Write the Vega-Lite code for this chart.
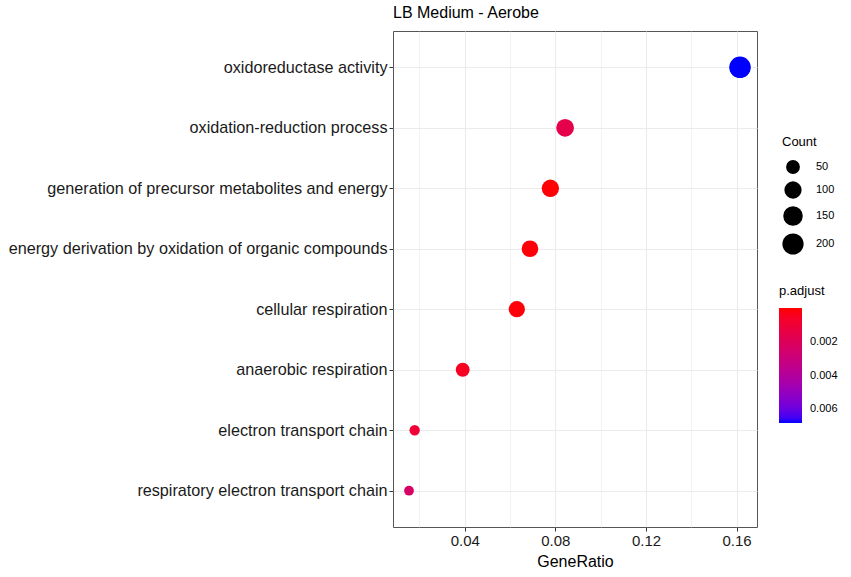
{
  "$schema": "https://vega.github.io/schema/vega-lite/v6.json",
  "autosize": {"type": "none"},
  "width": 364,
  "height": 496,
  "padding": {"left": 393, "top": 31, "right": 94, "bottom": 50},
  "background": "white",
  "title": {"text": "LB Medium - Aerobe", "anchor": "start", "frame": "group", "font": "Liberation Sans", "fontSize": 16, "fontWeight": "normal", "color": "#000000", "offset": 10},
  "config": {
    "view": {"stroke": "#555555", "strokeWidth": 1},
    "font": "Liberation Sans"
  },
  "data": {
    "values": [
      {"Description": "oxidoreductase activity", "GeneRatio": 0.1615, "Count": 210, "p.adjust": 0.0068},
      {"Description": "oxidation-reduction process", "GeneRatio": 0.0843, "Count": 110, "p.adjust": 0.0016},
      {"Description": "generation of precursor metabolites and energy", "GeneRatio": 0.0778, "Count": 101, "p.adjust": 0.00005},
      {"Description": "energy derivation by oxidation of organic compounds", "GeneRatio": 0.0688, "Count": 89, "p.adjust": 0.00008},
      {"Description": "cellular respiration", "GeneRatio": 0.0630, "Count": 82, "p.adjust": 0.0001},
      {"Description": "anaerobic respiration", "GeneRatio": 0.0391, "Count": 51, "p.adjust": 0.0005},
      {"Description": "electron transport chain", "GeneRatio": 0.0179, "Count": 23, "p.adjust": 0.001},
      {"Description": "respiratory electron transport chain", "GeneRatio": 0.0154, "Count": 20, "p.adjust": 0.0024}
    ]
  },
  "mark": {"type": "circle", "opacity": 1, "strokeWidth": 0},
  "encoding": {
    "x": {
      "field": "GeneRatio", "type": "quantitative",
      "scale": {"domain": [0.00834, 0.169], "nice": false, "zero": false},
      "axis": {
        "title": "GeneRatio", "titleFontSize": 16, "titleFontWeight": "normal", "titleColor": "#000000", "titlePadding": 5,
        "values": [0.02, 0.04, 0.06, 0.08, 0.10, 0.12, 0.14, 0.16],
        "labelExpr": "round(datum.value*100) % 4 == 0 ? format(datum.value, '.2f') : ''",
        "labelFontSize": 15, "labelColor": "#1a1a1a", "labelPadding": 2,
        "domain": false, "tickSize": 4,
        "tickColor": {"condition": {"test": "round(datum.value*100) % 4 == 0", "value": "#333333"}, "value": "rgba(0,0,0,0)"},
        "grid": true,
        "gridColor": "#EBEBEB",
        "gridWidth": {"condition": {"test": "round(datum.value*100) % 4 == 0", "value": 1.1}, "value": 0.6}
      }
    },
    "y": {
      "field": "Description", "type": "nominal", "sort": null,
      "scale": {"type": "point", "padding": 0.6},
      "axis": {
        "title": null, "labelFontSize": 16.2, "labelColor": "#1a1a1a", "labelPadding": 2, "labelLimit": 500,
        "domain": false, "tickSize": 4, "tickColor": "#333333",
        "grid": true, "gridColor": "#EBEBEB", "gridWidth": 1.1
      }
    },
    "size": {
      "field": "Count", "type": "quantitative",
      "scale": {"type": "sqrt", "domain": [20, 210], "range": [95, 464]},
      "legend": {
        "title": "Count", "orient": "none", "legendX": 389, "legendY": 105,
        "values": [50, 100, 150, 200],
        "titleFontSize": 13, "titleFontWeight": "normal", "titleColor": "#000000", "titlePadding": 11,
        "labelFontSize": 11, "labelColor": "#000000", "labelOffset": 12,
        "symbolType": "circle", "symbolFillColor": "#000000", "symbolStrokeWidth": 0, "symbolOpacity": 1,
        "rowPadding": 7
      }
    },
    "color": {
      "field": "p\\.adjust", "type": "quantitative",
      "scale": {"domain": [0.0068, 0], "range": ["#0000FF", "#FF0000"], "interpolate": "lab"},
      "legend": {
        "title": "p.adjust", "orient": "none", "legendX": 386, "legendY": 254,
        "values": [0.002, 0.004, 0.006],
        "format": ".3f",
        "titleFontSize": 13, "titleFontWeight": "normal", "titleColor": "#000000", "titlePadding": 10,
        "labelFontSize": 11, "labelColor": "#000000", "labelOffset": 8,
        "gradientLength": 115, "gradientThickness": 23, "gradientStrokeWidth": 0,
        "direction": "vertical"
      }
    }
  }
}
